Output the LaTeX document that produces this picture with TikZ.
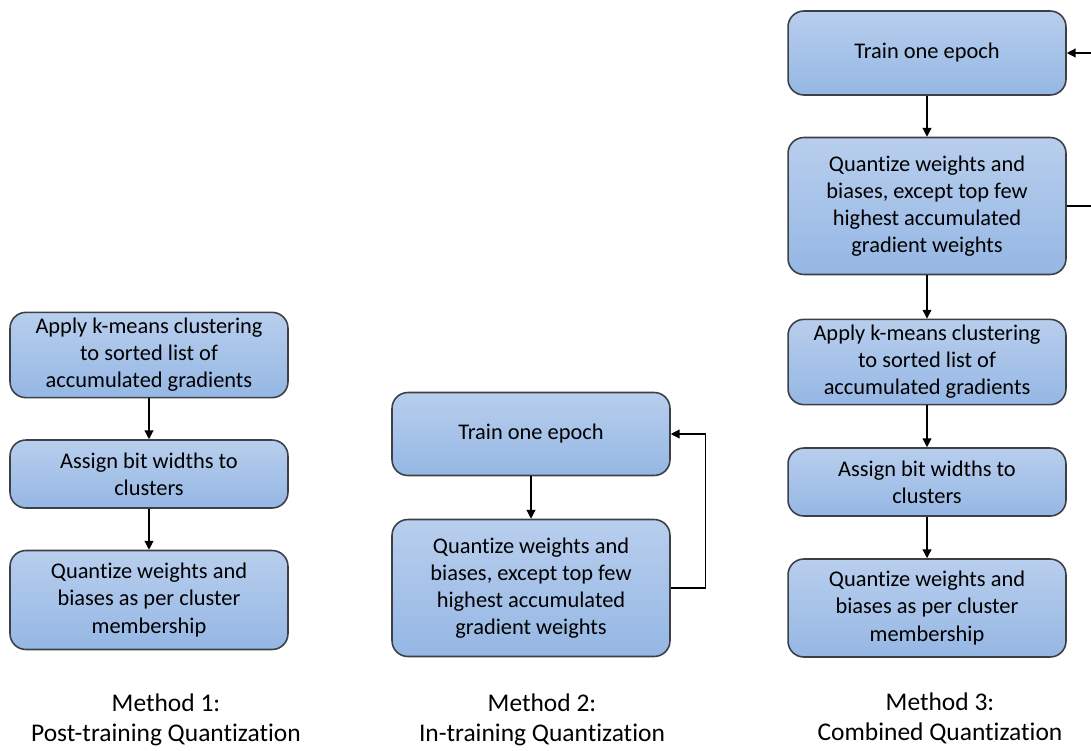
\documentclass[tikz,border=0pt]{standalone}
\usepackage{fontspec}
\setmainfont[RawFeature=-liga]{Carlito}
\usetikzlibrary{arrows.meta}
\definecolor{boxtop}{RGB}{184,206,237}
\definecolor{boxbot}{RGB}{149,183,228}
\definecolor{boxline}{RGB}{60,64,70}
\tikzset{
  stepbox/.style={draw=boxline, line width=0.9pt, rounded corners=9pt,
    top color=boxtop, bottom color=boxbot, align=center,
    minimum width=5.56cm, font=\fontsize{12.75}{15.4}\selectfont},
  flow/.style={-{Triangle[length=5pt,width=5pt]}, line width=0.7pt},
  caption/.style={align=center, font=\fontsize{14.5}{17}\selectfont}
}
\begin{document}
\begin{tikzpicture}[x=0.02cm,y=-0.02cm]
  \useasboundingbox (0,0) rectangle (1091,750);
  % Method 1
  \node[stepbox, minimum height=1.68cm] (kmeansA) at (149,355) {Apply k-means clustering\\ to sorted list of\\ accumulated gradients};
  \node[stepbox, minimum height=1.36cm] (bitsA) at (149,474) {Assign bit widths to\\ clusters};
  \node[stepbox, minimum height=1.98cm] (quantA) at (149,600) {Quantize weights and\\ biases as per cluster\\ membership};
  \draw[flow] (kmeansA) -- (bitsA);
  \draw[flow] (bitsA) -- (quantA);
  \node[caption] (capA) at (166,720) {Method 1:\\ Post-training Quantization};
  % Method 2
  \node[stepbox, minimum height=1.66cm] (trainB) at (531,434) {Train one epoch};
  \node[stepbox, minimum height=2.74cm] (quantB) at (531,588) {Quantize weights and\\ biases, except top few\\ highest accumulated\\ gradient weights};
  \draw[flow] (trainB) -- (quantB);
  \draw[flow] (quantB.east) -- ++(35,0) |- (trainB.east);
  \node[caption] (capB) at (542,720) {Method 2:\\ In-training Quantization};
  % Method 3
  \node[stepbox, minimum height=1.68cm] (trainC) at (927,53) {Train one epoch};
  \node[stepbox, minimum height=2.74cm] (quantC) at (927,206) {Quantize weights and\\ biases, except top few\\ highest accumulated\\ gradient weights};
  \node[stepbox, minimum height=1.70cm] (kmeansC) at (927,362) {Apply k-means clustering\\ to sorted list of\\ accumulated gradients};
  \node[stepbox, minimum height=1.36cm] (bitsC) at (927,482) {Assign bit widths to\\ clusters};
  \node[stepbox, minimum height=1.96cm] (finalC) at (927,608) {Quantize weights and\\ biases as per cluster\\ membership};
  \draw[flow] (trainC) -- (quantC);
  \draw[flow] (quantC) -- (kmeansC);
  \draw[flow] (kmeansC) -- (bitsC);
  \draw[flow] (bitsC) -- (finalC);
  \draw[flow] (quantC.east) -- ++(40,0) |- (trainC.east);
  \node[caption] (capC) at (940,718) {Method 3:\\ Combined Quantization};
\end{tikzpicture}
\end{document}
